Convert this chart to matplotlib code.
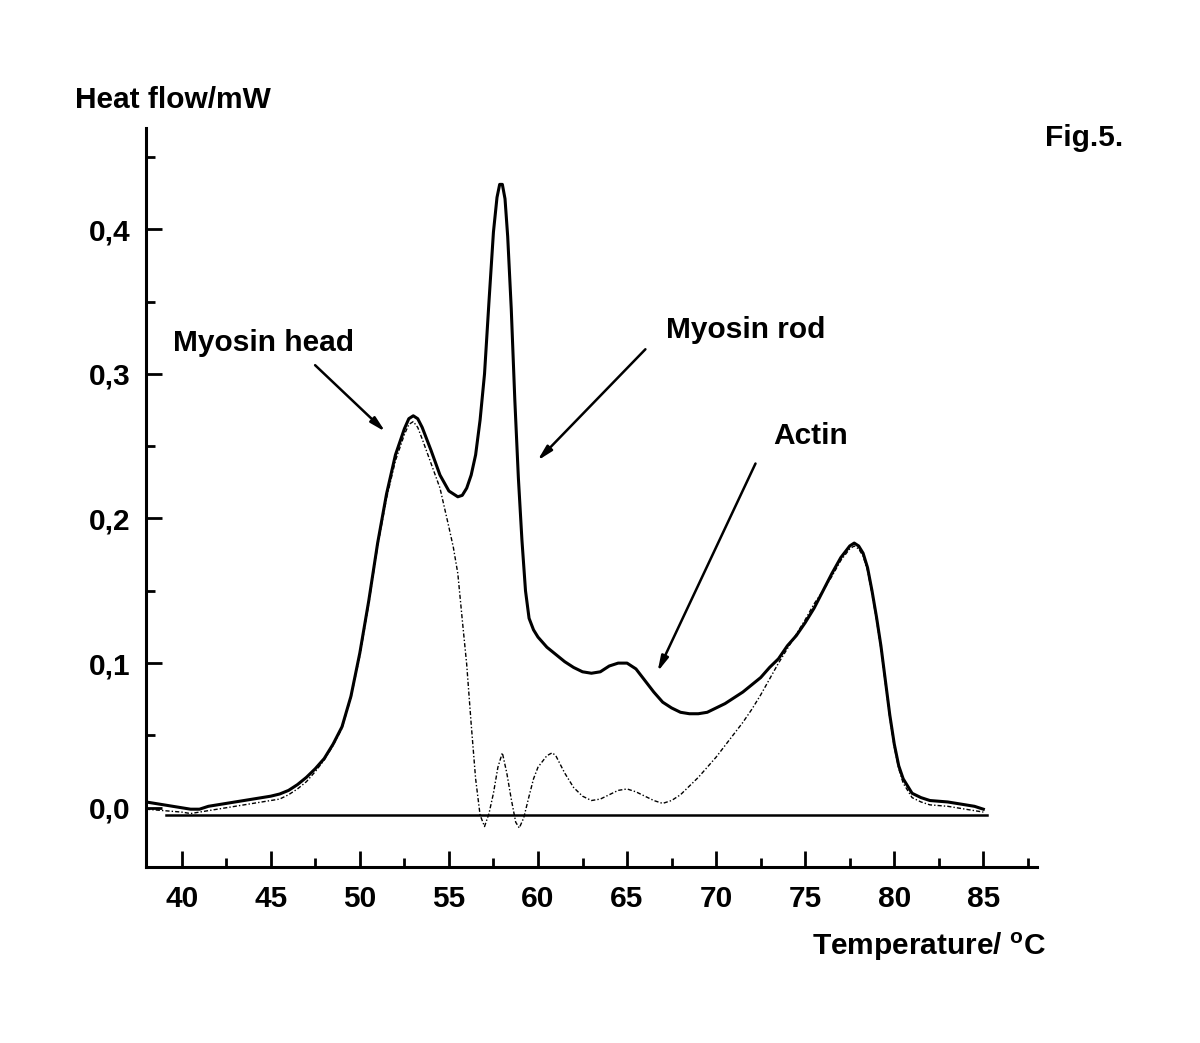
import matplotlib
matplotlib.use('Agg')
import matplotlib.pyplot as plt
from matplotlib.ticker import MultipleLocator

plt.rcParams['font.family'] = ['Liberation Sans', 'DejaVu Sans']
plt.rcParams['font.weight'] = 'bold'
plt.rcParams['mathtext.fontset'] = 'custom'
plt.rcParams['mathtext.rm'] = 'Liberation Sans:bold'
plt.rcParams['mathtext.it'] = 'Liberation Sans:bold'

# measured DSC curve (solid)
temp_total = [38.0, 38.5, 39.0, 39.5, 40.0, 40.5, 41.0, 41.5, 42.0, 42.5, 43.0, 43.5,
              44.0, 44.5, 45.0, 45.5, 46.0, 46.5, 47.0, 47.5, 48.0, 48.5, 49.0, 49.5,
              50.0, 50.5, 51.0, 51.5, 52.0, 52.5, 52.75, 53.0, 53.25, 53.5, 54.0, 54.5,
              55.0, 55.5, 55.75, 56.0, 56.25, 56.5, 56.75, 57.0, 57.25, 57.5, 57.7, 57.85,
              58.0, 58.15, 58.3, 58.5, 58.7, 58.9, 59.1, 59.3, 59.5, 59.75, 60.0, 60.5,
              61.0, 61.5, 62.0, 62.5, 63.0, 63.5, 64.0, 64.5, 65.0, 65.5, 66.0, 66.5,
              67.0, 67.5, 68.0, 68.5, 69.0, 69.5, 70.0, 70.5, 71.0, 71.5, 72.0, 72.5,
              73.0, 73.5, 74.0, 74.5, 75.0, 75.5, 76.0, 76.5, 77.0, 77.5, 77.75, 78.0,
              78.25, 78.5, 78.75, 79.0, 79.25, 79.5, 79.75, 80.0, 80.25, 80.5, 81.0, 81.5,
              82.0, 82.5, 83.0, 83.5, 84.0, 84.5, 85.0]
flow_total = [0.004, 0.003, 0.002, 0.001, 0.000, -0.001, -0.001, 0.001, 0.002, 0.003, 0.004, 0.005,
              0.006, 0.007, 0.008, 0.0095, 0.012, 0.016, 0.021, 0.027, 0.034, 0.044, 0.056, 0.077,
              0.107, 0.143, 0.183, 0.217, 0.244, 0.262, 0.269, 0.271, 0.269, 0.263, 0.247, 0.230,
              0.219, 0.215, 0.216, 0.221, 0.230, 0.244, 0.268, 0.300, 0.350, 0.398, 0.422, 0.431,
              0.431, 0.421, 0.395, 0.345, 0.282, 0.228, 0.185, 0.150, 0.131, 0.123, 0.118, 0.111,
              0.106, 0.101, 0.097, 0.094, 0.093, 0.094, 0.098, 0.100, 0.100, 0.096, 0.088, 0.080,
              0.073, 0.069, 0.066, 0.065, 0.065, 0.066, 0.069, 0.072, 0.076, 0.080, 0.085, 0.090,
              0.097, 0.103, 0.112, 0.119, 0.128, 0.138, 0.150, 0.162, 0.173, 0.181, 0.183, 0.181,
              0.176, 0.166, 0.150, 0.132, 0.112, 0.088, 0.064, 0.044, 0.029, 0.020, 0.010, 0.007,
              0.005, 0.0045, 0.004, 0.003, 0.002, 0.001, -0.001]

# deconvolved curve (dash-dot)
temp_fit = [38.0, 39.0, 40.0, 40.5, 41.0, 42.0, 43.0, 44.0, 45.0, 45.5, 46.0, 46.5,
            47.0, 47.5, 48.0, 48.5, 49.0, 49.5, 50.0, 50.5, 51.0, 51.5, 52.0, 52.5,
            52.75, 53.0, 53.25, 53.5, 54.0, 54.5, 55.0, 55.25, 55.5, 55.75, 56.0, 56.25,
            56.5, 56.75, 57.0, 57.25, 57.5, 57.75, 58.0, 58.25, 58.5, 58.75, 58.95, 59.2,
            59.5, 59.75, 60.0, 60.5, 60.8, 61.0, 61.5, 62.0, 62.5, 63.0, 63.5, 64.0,
            64.5, 65.0, 65.5, 66.0, 66.5, 67.0, 67.5, 68.0, 68.5, 69.0, 70.0, 70.5,
            71.0, 71.5, 72.0, 72.5, 73.0, 73.5, 74.0, 74.5, 75.0, 75.5, 76.0, 76.5,
            77.0, 77.5, 77.75, 78.0, 78.25, 78.5, 78.75, 79.0, 79.25, 79.5, 79.75, 80.0,
            80.25, 80.5, 81.0, 81.5, 82.0, 83.0, 84.0, 85.0]
flow_fit = [-0.001, -0.002, -0.003, -0.004, -0.003, -0.001, 0.001, 0.003, 0.005, 0.006, 0.009, 0.013,
            0.018, 0.025, 0.033, 0.043, 0.055, 0.076, 0.105, 0.141, 0.181, 0.214, 0.240, 0.258,
            0.265, 0.267, 0.263, 0.255, 0.238, 0.221, 0.194, 0.180, 0.162, 0.130, 0.099, 0.058,
            0.020, -0.005, -0.013, -0.004, 0.010, 0.028, 0.038, 0.024, 0.006, -0.010, -0.014, -0.007,
            0.008, 0.020, 0.028, 0.036, 0.038, 0.036, 0.024, 0.014, 0.008, 0.005, 0.006, 0.009,
            0.012, 0.013, 0.011, 0.008, 0.005, 0.003, 0.005, 0.009, 0.015, 0.021, 0.035, 0.043,
            0.051, 0.059, 0.068, 0.078, 0.089, 0.100, 0.110, 0.120, 0.130, 0.141, 0.150, 0.160,
            0.171, 0.179, 0.181, 0.179, 0.174, 0.164, 0.148, 0.130, 0.110, 0.086, 0.062, 0.042,
            0.027, 0.017, 0.007, 0.004, 0.002, 0.001, -0.001, -0.003]

baseline_x = [39.1, 85.2]
baseline_y = [-0.005, -0.005]

x_ticks = [40, 45, 50, 55, 60, 65, 70, 75, 80, 85]
y_ticks = [0.0, 0.1, 0.2, 0.3, 0.4]
y_tick_labels = ['0,0', '0,1', '0,2', '0,3', '0,4']

fig = plt.figure(figsize=(12, 10.43), dpi=100)
ax = fig.add_axes([0.1217, 0.1687, 0.7423, 0.7086])

ax.plot(temp_total, flow_total, color='black', lw=2.2)
ax.plot(temp_fit, flow_fit, color='black', lw=1.0, linestyle=(0, (3, 1.5, 1, 1.5)))
ax.plot(baseline_x, baseline_y, color='black', lw=1.8)

ax.set_xlim(38, 88)
ax.set_ylim(-0.041, 0.47)

for side in ['top', 'right']:
    ax.spines[side].set_visible(False)
for side in ['left', 'bottom']:
    ax.spines[side].set_linewidth(2.2)

ax.set_xticks(x_ticks)
ax.set_yticks(y_ticks)
ax.set_yticklabels(y_tick_labels)
ax.xaxis.set_minor_locator(MultipleLocator(2.5))
ax.yaxis.set_minor_locator(MultipleLocator(0.05))
ax.tick_params(which='major', direction='in', length=11.5, width=2, labelsize=21.5)
ax.tick_params(which='minor', direction='in', length=6.5, width=2)
ax.tick_params(axis='x', pad=13)
ax.tick_params(axis='y', pad=11)
for lbl in ax.get_xticklabels() + ax.get_yticklabels():
    lbl.set_fontweight('bold')

fig.text(0.0625, 0.904, 'Heat flow/mW', fontsize=21.5, fontweight='bold', va='center', ha='left')
fig.text(0.8708, 0.868, 'Fig.5.', fontsize=21.5, fontweight='bold', va='center', ha='left')
fig.text(0.6767, 0.092, r'Temperature/ $^{\mathrm{o}}$C', fontsize=21.5, fontweight='bold',
         va='center', ha='left')

arrow = dict(arrowstyle='-|>,head_width=0.22,head_length=0.9', color='black', lw=1.8,
             shrinkA=0, shrinkB=0)
ax.annotate('', xy=(51.43, 0.260), xytext=(47.49, 0.306), arrowprops=arrow)
ax.annotate('', xy=(59.97, 0.240), xytext=(66.03, 0.317), arrowprops=arrow)
ax.annotate('', xy=(66.71, 0.094), xytext=(72.21, 0.238), arrowprops=arrow)
ax.text(39.52, 0.321, 'Myosin head', fontsize=21.5, fontweight='bold', va='center', ha='left')
ax.text(67.16, 0.330, 'Myosin rod', fontsize=21.5, fontweight='bold', va='center', ha='left')
ax.text(73.22, 0.257, 'Actin', fontsize=21.5, fontweight='bold', va='center', ha='left')

fig.savefig('out.png', dpi=100)
